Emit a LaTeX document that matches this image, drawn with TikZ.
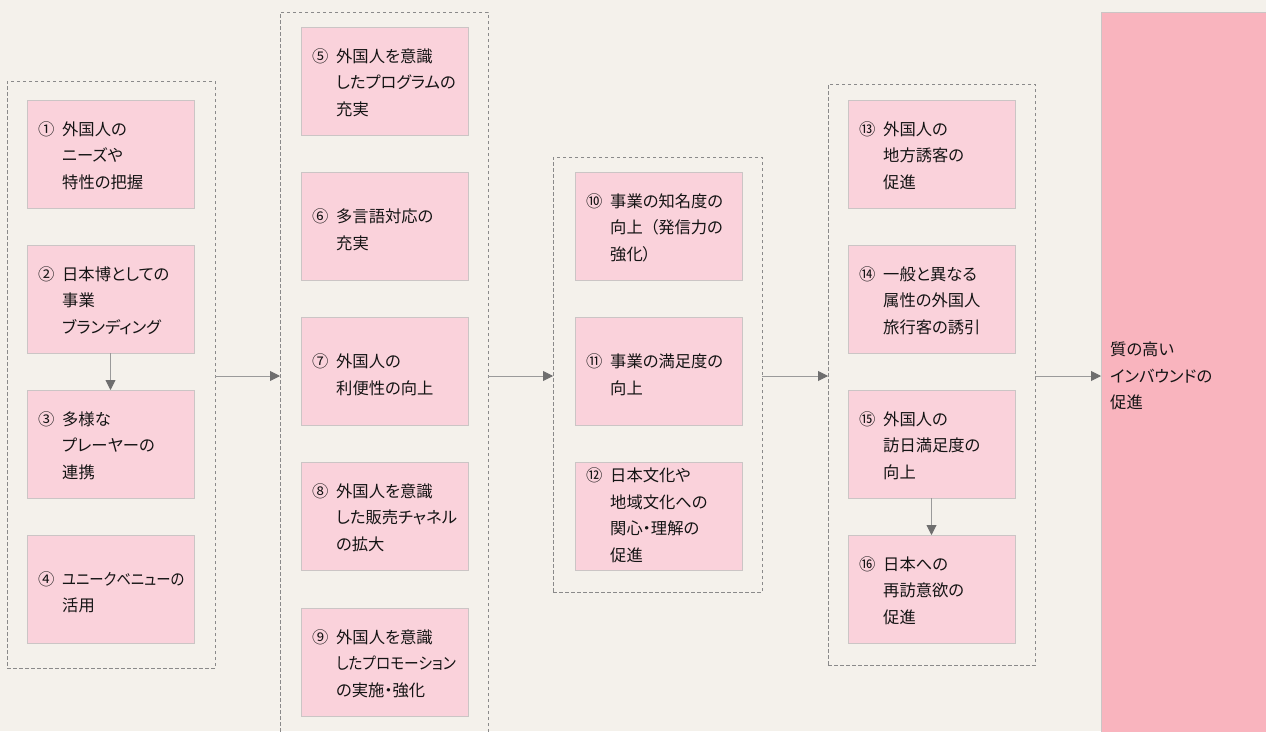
\documentclass[tikz,border=0pt]{standalone}
\usepackage{fontspec}
\usepackage{graphicx}
\setmainfont{Noto Sans CJK JP}[RawFeature=+palt]
\usetikzlibrary{arrows.meta}
\definecolor{bg}{HTML}{F4F1EB}
\definecolor{boxfill}{HTML}{FAD2DB}
\definecolor{boxline}{HTML}{CBC5C5}
\definecolor{goalfill}{HTML}{F9B4BE}
\definecolor{dashc}{HTML}{8A8A8A}
\definecolor{arrline}{HTML}{9A9A9A}
\definecolor{arrhead}{HTML}{6E6E6E}
\definecolor{txt}{HTML}{141414}
\tikzset{
  pbox/.style={draw=boxline, line width=0.9pt, fill=boxfill, minimum width=167pt, minimum height=108pt, anchor=north west, inner sep=0pt, outer sep=0pt},
  grp/.style={draw=dashc, line width=0.8pt, dash pattern=on 3.5pt off 2.5pt, anchor=north west, inner sep=0pt, outer sep=0pt},
  lbl/.style={anchor=west, inner sep=0pt, text=txt, font=\fontsize{16.3}{26.5}\selectfont},
  arr/.style={draw=arrline, line width=0.9pt, -{Triangle[length=10pt, width=10pt, fill=arrhead, color=arrhead]}},
}
\newcommand\sq[2][0.9]{\scalebox{#1}[1]{#2}}
\newcommand\mkbox[6][-2.5pt]{%
  \node[pbox] (#2) at (#3,#4) {};
  \node[lbl] (#2t) at ([xshift=11pt, yshift=#1]#2.west) {\begin{tabular}{@{}p{24pt}@{}l@{}}#5 & #6\end{tabular}};}
\begin{document}
\begin{tikzpicture}[x=1pt, y=-1pt]
\clip (0,0) rectangle (1266,731);
\fill[bg] (0,0) rectangle (1266,731);
% groups
\node[grp, minimum width=208pt, minimum height=587pt] (g1) at (7,81) {};
\node[grp, minimum width=208pt, minimum height=728pt] (g2) at (280,12) {};
\node[grp, minimum width=209pt, minimum height=435pt] (g3) at (553,157) {};
\node[grp, minimum width=207pt, minimum height=581pt] (g4) at (828,84) {};
\node[draw=boxline, line width=0.9pt, fill=goalfill, minimum width=200pt, minimum height=728pt, anchor=north west, inner sep=0pt, outer sep=0pt] (goal) at (1101,12) {};
\node[lbl, align=left] (goalt) at (1110,376) {質の高い\\インバウンドの\\促進};
% column 1
\mkbox{b1}{27}{100}{①}{外国人の\\ & ニーズや\\ & 特性の把握}
\mkbox{b2}{27}{245}{②}{日本博としての\\ & 事業\\ & ブランディング}
\mkbox{b3}{27}{390}{③}{多様な\\ & プレーヤーの\\ & 連携}
\mkbox[-4pt]{b4}{27}{535}{④}{\sq[0.88]{ユニークベニューの}\\ & 活用}
% column 2
\mkbox{b5}{301}{27}{⑤}{外国人を意識\\ & したプログラムの\\ & 充実}
\mkbox[-4.5pt]{b6}{301}{172}{⑥}{多言語対応の\\ & 充実}
\mkbox[-4.5pt]{b7}{301}{317}{⑦}{外国人の\\ & 利便性の向上}
\mkbox{b8}{301}{462}{⑧}{外国人を意識\\ & した販売チャネル\\ & の拡大}
\mkbox{b9}{301}{608}{⑨}{外国人を意識\\ & \sq[0.9]{したプロモーション}\\ & の実施・強化}
% column 3
\mkbox{b10}{575}{172}{⑩}{事業の知名度の\\ & 向上\hspace{0.45em}（発信力の\\ & 強化）}
\mkbox[-4.5pt]{b11}{575}{317}{⑪}{事業の満足度の\\ & 向上}
\mkbox[0pt]{b12}{575}{462}{⑫}{日本文化や\\ & 地域文化への\\ & 関心・理解の\\ & 促進}
% column 4
\mkbox{b13}{848}{100}{⑬}{外国人の\\ & 地方誘客の\\ & 促進}
\mkbox{b14}{848}{245}{⑭}{一般と異なる\\ & 属性の外国人\\ & 旅行客の誘引}
\mkbox{b15}{848}{390}{⑮}{外国人の\\ & 訪日満足度の\\ & 向上}
\mkbox{b16}{848}{535}{⑯}{日本への\\ & 再訪意欲の\\ & 促進}
% arrows
\draw[arr] (b2.south) -- (b3.north);
\draw[arr] (b15.south) -- (b16.north);
\draw[arr] (g1.east |- 0,376) -- (g2.west |- 0,376);
\draw[arr] (g2.east |- 0,376) -- (g3.west |- 0,376);
\draw[arr] (g3.east |- 0,376) -- (g4.west |- 0,376);
\draw[arr] (g4.east |- 0,376) -- (goal.west |- 0,376);
\end{tikzpicture}
\end{document}
